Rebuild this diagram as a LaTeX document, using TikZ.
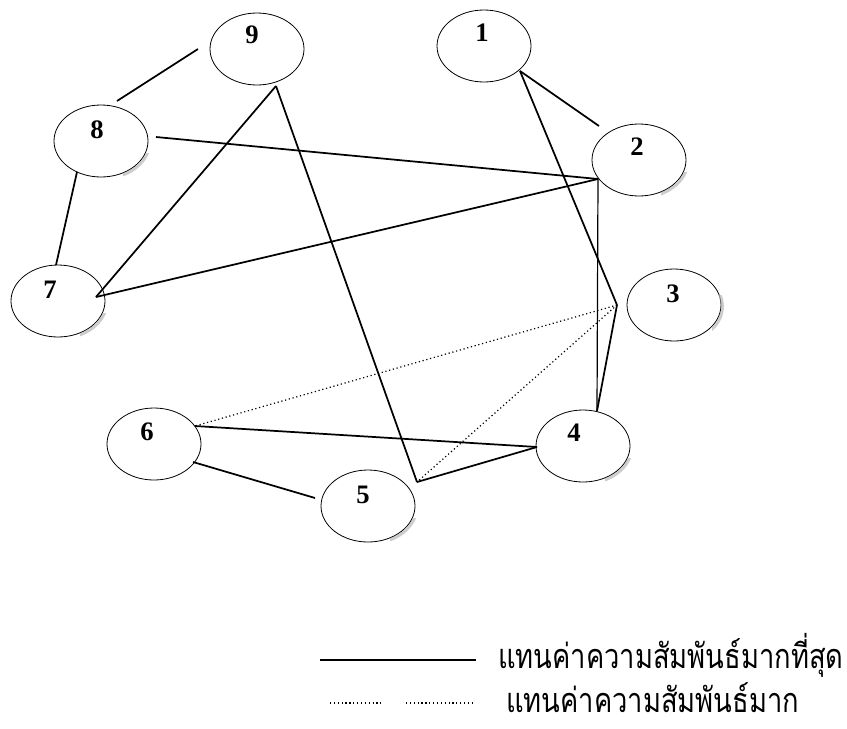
\documentclass[tikz,border=0pt]{standalone}
\usepackage{graphicx}
\usepackage{fontspec}
\setmainfont{Liberation Serif}
\newfontfamily\thaifont[Script=Thai]{Loma}
\usetikzlibrary{shapes.geometric,calc}
\begin{document}
\begin{tikzpicture}[x=0.75pt,y=-0.75pt,
  vtx/.style={draw, ellipse, line width=0.6pt, minimum width=70.5pt, minimum height=54pt, inner sep=0pt},
  num/.style={font=\bfseries\fontsize{20}{24}\selectfont, inner sep=0pt},
  strong/.style={line width=1.3pt},
  thin/.style={line width=0.9pt},
  weak/.style={dotted, line width=0.9pt},
  smudge/.style={draw=gray!55, line width=2.2pt, opacity=0.7},
  legtext/.style={anchor=west, inner sep=0pt, font=\thaifont\fontsize{20.5}{24}\selectfont}]
\fill[white] (0,0) rectangle (847,729);
\useasboundingbox (0,0) rectangle (847,729);

% vertices
\node[vtx] (n1) at (484,46) {};
\node[vtx] (n2) at (639,160) {};
\node[vtx] (n3) at (674,305) {};
\node[vtx] (n4) at (583,446) {};
\node[vtx] (n5) at (368,506) {};
\node[vtx] (n6) at (154,444) {};
\node[vtx] (n7) at (58,301) {};
\node[vtx] (n8) at (101,141) {};
\node[vtx] (n9) at (257,49) {};

% scan shadows on the lower right of some ellipses
\foreach \v in {n2,n4,n5,n7,n8}{
  \begin{scope}
    \clip ($(\v)+(22,12)$) rectangle ($(\v)+(60,50)$);
    \draw[smudge] ($(\v)+(1.5,1.5)$) ellipse[x radius=47, y radius=36];
  \end{scope}}
\begin{scope}
  \clip ($(n3)+(38,-10)$) rectangle ($(n3)+(60,30)$);
  \draw[smudge] ($(n3)+(1.5,1.5)$) ellipse[x radius=47, y radius=36];
\end{scope}

\node[num] (t1) at (482,33) {1};
\node[num] (t2) at (637,147) {2};
\node[num] (t3) at (673,294) {3};
\node[num] (t4) at (574,433) {4};
\node[num] (t5) at (363,495) {5};
\node[num] (t6) at (147,432) {6};
\node[num] (t7) at (50,290) {7};
\node[num] (t8) at (97,130) {8};
\node[num] (t9) at (252,35) {9};

% connector end points
\coordinate (j9) at (276,86);
\coordinate (j7) at (96,297);
\coordinate (j2) at (598,179);
\coordinate (j8) at (156,137);
\coordinate (j1) at (520,71);
\coordinate (j3) at (617,305);
\coordinate (j4t) at (597,411);
\coordinate (j4l) at (537,447);
\coordinate (j5) at (417,482);
\coordinate (j6) at (195,426);
\coordinate (a9) at (198,49);
\coordinate (a8) at (117,101);
\coordinate (b8) at (77,172);
\coordinate (b7) at (56,265);
\coordinate (c2) at (599,126);
\coordinate (d6) at (193,462);
\coordinate (d5) at (315,498);

% strongest relations
\draw[strong] (a9) -- (a8);
\draw[strong] (b8) -- (b7);
\draw[strong] (j9) -- (j7);
\draw[strong] (j9) -- (j5);
\draw[strong] (j8) -- (j2);
\draw[strong] (j7) -- (j2);
\draw[strong] (j1) -- (c2);
\draw[strong] (j1) -- (j3);
\draw[thin] (j2) -- (j4t);
\draw[strong] (j3) -- (j4t);
\draw[strong] (j6) -- (j4l);
\draw[strong] (j5) -- (j4l);
\draw[strong] (d6) -- (d5);

% strong relations
\draw[weak] (j3) -- (j6);
\draw[weak] (j3) -- (j5);

% legend
\coordinate (ls1) at (320,660);
\coordinate (le1) at (476,660);
\coordinate (ls2) at (330,703);
\coordinate (lm2) at (382,703);
\coordinate (ln2) at (406,703);
\coordinate (le2) at (474,703);
\draw[thin] (ls1) -- (le1);
\draw[weak] (ls2) -- (lm2);
\draw[weak] (ln2) -- (le2);
\node[legtext] (lg1) at (498,655) {\scalebox{1}[1.25]{แทนค่าความสัมพันธ์มากที่สุด}};
\node[legtext] (lg2) at (506,698) {\scalebox{1}[1.25]{แทนค่าความสัมพันธ์มาก}};
\end{tikzpicture}
\end{document}
